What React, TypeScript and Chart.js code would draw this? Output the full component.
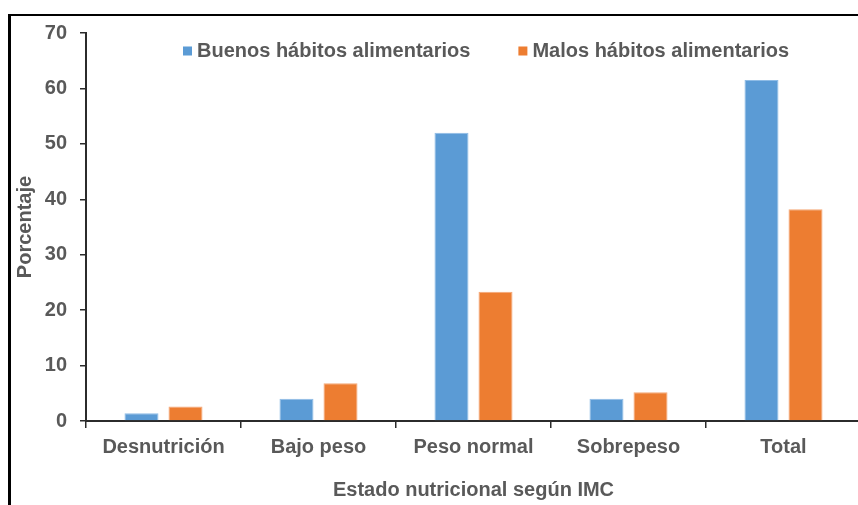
import React, { useEffect, useRef } from "react";
import { Chart, registerables } from "chart.js";

Chart.register(...registerables);

const categories = ["Desnutrición", "Bajo peso", "Peso normal", "Sobrepeso", "Total"];
const buenosHabitos = [1.4, 4.0, 52.0, 4.0, 61.5];
const malosHabitos = [2.6, 6.8, 23.3, 5.2, 38.2];
const seriesLabels = ["Buenos hábitos alimentarios", "Malos hábitos alimentarios"];
const yTitle = "Porcentaje";
const xTitle = "Estado nutricional según IMC";

const FONT = '"Liberation Sans", Arial, sans-serif';
const TEXT = "#595959";
const AXIS = "#2b2b2b";

const insideLegend = {
  id: "insideLegend",
  afterDraw(chart: any) {
    const ctx = chart.ctx;
    ctx.save();
    ctx.font = `bold 20px ${FONT}`;
    ctx.textBaseline = "middle";
    ctx.textAlign = "left";
    let x = 183;
    const y = 51;
    chart.data.datasets.forEach((ds: any) => {
      ctx.fillStyle = ds.backgroundColor;
      ctx.fillRect(x, y - 4.5, 9, 9);
      ctx.fillStyle = TEXT;
      ctx.fillText(ds.label, x + 14, y);
      x += 14 + ctx.measureText(ds.label).width + 48;
    });
    ctx.restore();
  },
};

export default function App() {
  const ref = useRef<HTMLCanvasElement | null>(null);

  useEffect(() => {
    if (!ref.current) return;
    const chart = new Chart(ref.current, {
      type: "bar",
      data: {
        labels: categories,
        datasets: [
          {
            label: seriesLabels[0],
            data: buenosHabitos,
            backgroundColor: "#5B9BD5",
            borderColor: "#8FBCE6",
            borderWidth: 1,
            categoryPercentage: 0.568,
            barPercentage: 0.773,
          },
          {
            label: seriesLabels[1],
            data: malosHabitos,
            backgroundColor: "#ED7D31",
            borderColor: "#F5A878",
            borderWidth: 1,
            categoryPercentage: 0.568,
            barPercentage: 0.773,
          },
        ],
      },
      options: {
        responsive: false,
        animation: false,
        layout: { padding: { left: 0, right: 0, top: 33, bottom: 0 } },
        plugins: {
          legend: { display: false },
          tooltip: { enabled: false },
        },
        scales: {
          x: {
            grid: {
              offset: true,
              drawOnChartArea: false,
              drawTicks: true,
              tickLength: 7,
              color: AXIS,
              lineWidth: 1.5,
            },
            border: { color: AXIS, width: 2 },
            ticks: {
              color: TEXT,
              font: { family: FONT, size: 20, weight: "bold" },
              padding: 7,
              maxRotation: 0,
            },
            title: {
              display: true,
              text: xTitle,
              color: TEXT,
              font: { family: FONT, size: 20, weight: "bold" },
              padding: 3,
            },
            afterFit(scale: any) {
              scale.height = 84;
            },
          },
          y: {
            min: 0,
            max: 70,
            ticks: {
              stepSize: 10,
              color: TEXT,
              font: { family: FONT, size: 20, weight: "bold" },
              padding: 13,
            },
            grid: {
              drawOnChartArea: false,
              drawTicks: true,
              tickLength: 6,
              color: AXIS,
              lineWidth: 1.5,
            },
            border: { color: AXIS, width: 2 },
            title: {
              display: true,
              text: yTitle,
              color: TEXT,
              font: { family: FONT, size: 20, weight: "bold" },
              padding: 13,
            },
            afterFit(scale: any) {
              scale.width = 86;
            },
          },
        },
      },
      plugins: [insideLegend],
    });
    return () => chart.destroy();
  }, []);

  return (
    <div
      style={{
        position: "fixed",
        left: 0,
        top: 0,
        width: 858,
        height: 505,
        overflow: "hidden",
        background: "#fff",
      }}
    >
      <div
        style={{
          position: "absolute",
          left: 8,
          top: 14,
          width: 900,
          height: 600,
          borderTop: "2px solid #000",
          borderLeft: "3px solid #000",
        }}
      />
      <canvas
        ref={ref}
        width={861}
        height={505}
        style={{ position: "absolute", left: 0, top: 0 }}
      />
    </div>
  );
}
